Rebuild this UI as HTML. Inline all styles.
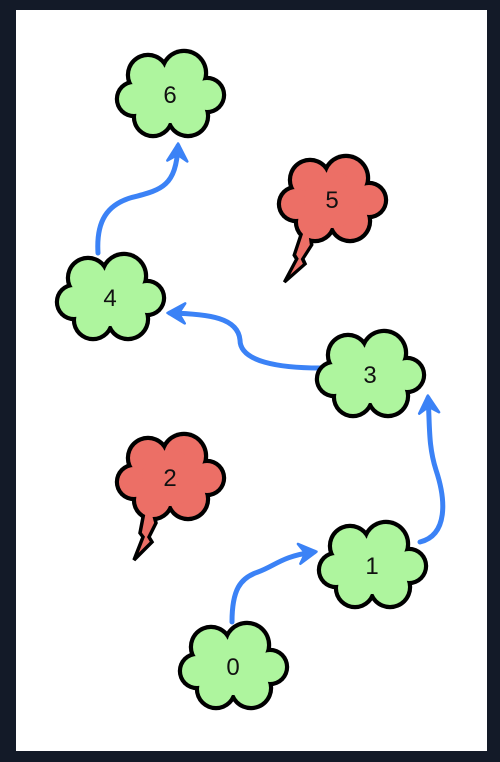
<!DOCTYPE html>
<html><head><meta charset="utf-8"><style>
html,body{margin:0;padding:0;background:#131a28;width:500px;height:762px;overflow:hidden}
svg{display:block}
text{font-family:"Liberation Sans",sans-serif;font-size:24px;fill:#111}
</style></head><body>
<svg id="s" width="500" height="762">
<defs>
<marker id="ah" viewBox="0 0 20 20" refX="14" refY="10" markerWidth="5" markerHeight="5" orient="auto" markerUnits="strokeWidth">
<path d="M2,2 L16,10 L2,18 L7,10 Z" fill="#3b82f6" stroke="#3b82f6" stroke-width="2" stroke-linejoin="round"/>
</marker>
</defs>
<rect x="16" y="10" width="471" height="741" fill="#fff"/>
<g id="edges"></g>
<g id="nodes"></g>
</svg>
<script>
const nodeIds=[0,1,2,3,4,5,6];
const nodeX=[233,372,170,370,110,332,170];
const nodeY=[667,566,478,375,298,200,95];
const nodeFailed=[false,false,true,false,false,true,false];
const boltSkew=[0,0,0,0,0,-8,0];
const edgePaths=[
 "M232,622 C232,590 240,578 258,572 C275,566 282,556 314,552",
 "M420,542 C448,535 446,500 436,470 C428,445 430,425 428,398",
 "M320,368 C280,368 240,362 240,340 C238,318 210,314 170,313",
 "M98,253 C96,220 108,205 130,198 C160,190 176,188 178,146"
];
const NS="http://www.w3.org/2000/svg";
const bumps=[[-22,-20,20],[14,-22,22],[-36,4,17],[37,0,17],[-17,22,19],[18,21,20],[0,0,30]];
const eg=document.getElementById('edges');
edgePaths.forEach((d,i)=>{
 const p=document.createElementNS(NS,'path');
 p.setAttribute('d',d);p.setAttribute('fill','none');p.setAttribute('stroke','#3b82f6');
 p.setAttribute('stroke-width','5');p.setAttribute('stroke-linecap','round');p.setAttribute('marker-end','url(#ah)');
 
 
 eg.appendChild(p);
});
const ng=document.getElementById('nodes');
nodeIds.forEach((id,i)=>{
 const g=document.createElementNS(NS,'g');
 g.setAttribute('transform',`translate(${nodeX[i]},${nodeY[i]})`);
 
 
 const fill=nodeFailed[i]?'#ec6f66':'#aef59e';
 bumps.forEach(b=>{
  const c=document.createElementNS(NS,'circle');
  c.setAttribute('cx',b[0]);c.setAttribute('cy',b[1]);c.setAttribute('r',b[2]+2.2);c.setAttribute('fill','#000');
  g.appendChild(c);
 });
 if(nodeFailed[i]){
  const l=document.createElementNS(NS,'path');
  l.setAttribute('d','M-24,8 L-20,14 L-26,34 L-30,55 L-27,59 L-36,82 L-18,64 L-21,59 L-14,45 L-17,34 L-12,26 L-8,18 Z');
  l.setAttribute('transform',`skewX(${boltSkew[i]})`);
  l.setAttribute('fill',fill);l.setAttribute('stroke','#000');l.setAttribute('stroke-width','3.5');l.setAttribute('stroke-linejoin','miter');
  
  
  g.appendChild(l);
 }
 bumps.forEach(b=>{
  const c=document.createElementNS(NS,'circle');
  c.setAttribute('cx',b[0]);c.setAttribute('cy',b[1]);c.setAttribute('r',b[2]-2);c.setAttribute('fill',fill);
  g.appendChild(c);
 });
 const t=document.createElementNS(NS,'text');
 t.setAttribute('x','0');t.setAttribute('y','8');t.setAttribute('text-anchor','middle');
 t.textContent=id;
 
 
 g.appendChild(t);
 ng.appendChild(g);
});
</script>
</body></html>
